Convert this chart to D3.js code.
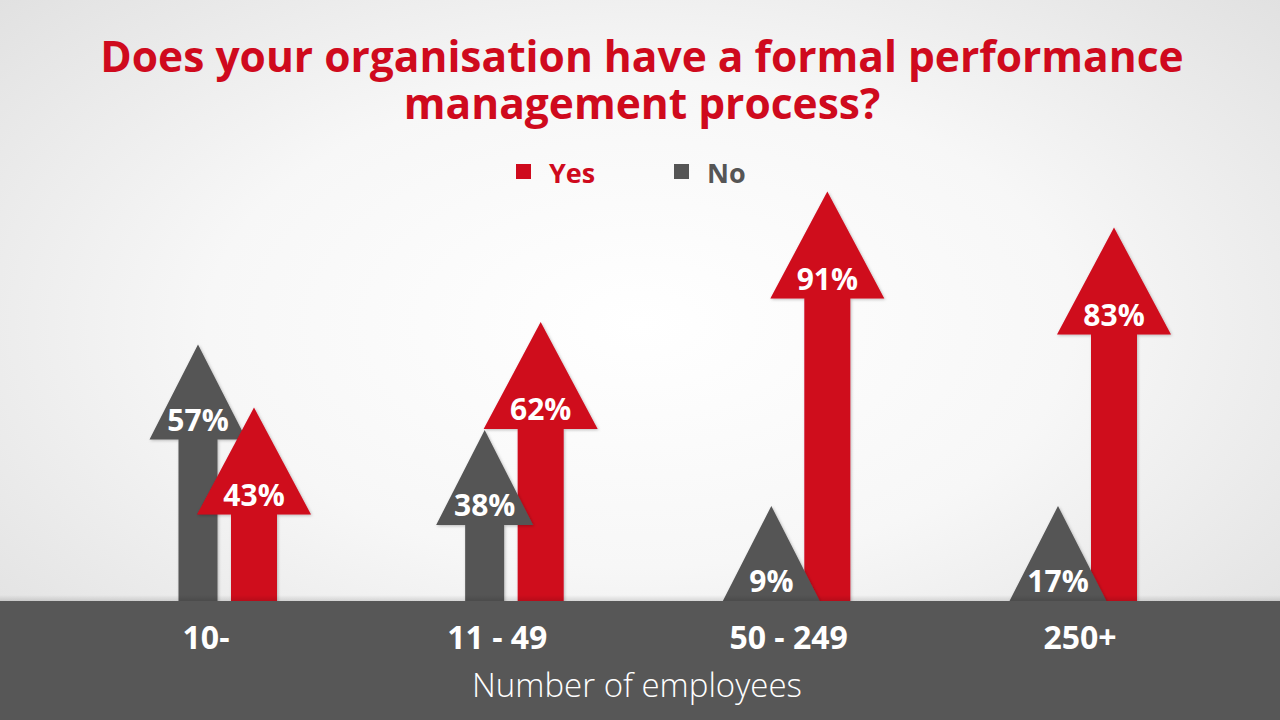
<!DOCTYPE html>
<html>
<head>
<meta charset="utf-8">
<script src="https://cdn.jsdelivr.net/npm/d3@7"></script>
<style>
  html, body { margin: 0; padding: 0; overflow: hidden; }
  svg { display: block; font-family: "Open Sans", Lato, sans-serif; }
</style>
</head>
<body>
<div id="chart"></div>
<script>
const categories = ["10-", "11 - 49", "50 - 249", "250+"];
const seriesNames = ["No", "Yes"];
const yesValues = [43, 62, 91, 83];
const noValues = [57, 38, 9, 17];
const titleLines = ["Does your organisation have a formal performance", "management process?"];
const axisTitle = "Number of employees";

const RED = "#cf0a1d", GREY = "#555555";
const W = 1280, H = 720, baseY = 601;

// arrow shape per series
const shape = {
  No:  { headW: 97,  headH: 95,  shaftW: 39, fill: GREY },
  Yes: { headW: 114, headH: 107, shaftW: 46, fill: RED }
};

const svg = d3.select("#chart").append("svg")
  .attr("width", W).attr("height", H);

const defs = svg.append("defs");
const bg = defs.append("radialGradient").attr("id", "bg")
  .attr("cx", "50%").attr("cy", "45%").attr("r", "75%");
bg.append("stop").attr("offset", "0%").attr("stop-color", "#ffffff");
bg.append("stop").attr("offset", "45%").attr("stop-color", "#f7f7f7");
bg.append("stop").attr("offset", "100%").attr("stop-color", "#dcdcdc");

const sh = defs.append("filter").attr("id", "shadow")
  .attr("x", "-20%").attr("y", "-20%").attr("width", "140%").attr("height", "140%");
sh.append("feDropShadow").attr("dx", 1).attr("dy", 1).attr("stdDeviation", 1.5)
  .attr("flood-color", "#000").attr("flood-opacity", 0.25);

const bandShade = defs.append("linearGradient").attr("id", "bandShade")
  .attr("x1", 0).attr("x2", 0).attr("y1", 0).attr("y2", 1);
bandShade.append("stop").attr("offset", "0%").attr("stop-color", "#000").attr("stop-opacity", 0);
bandShade.append("stop").attr("offset", "100%").attr("stop-color", "#000").attr("stop-opacity", 0.12);

svg.append("rect").attr("width", W).attr("height", H).attr("fill", "url(#bg)");

// title
svg.append("g").selectAll("text")
  .data(titleLines)
  .join("text")
    .attr("x", 642)
    .attr("y", (d, i) => 72 + i * 47)
    .attr("text-anchor", "middle")
    .attr("font-size", 42.5)
    .attr("font-weight", 700)
    .attr("fill", RED)
    .text(d => d);

// legend
const legendX = { Yes: 516, No: 674 };
const legend = svg.append("g").selectAll("g")
  .data(["Yes", "No"])
  .join("g")
    .attr("transform", d => `translate(${legendX[d]},0)`);
legend.append("rect")
  .attr("x", 0).attr("y", 164).attr("width", 15).attr("height", 15)
  .attr("fill", d => shape[d].fill);
legend.append("text")
  .attr("x", 33).attr("y", 183)
  .attr("font-size", 27).attr("font-weight", 700)
  .attr("fill", d => shape[d].fill)
  .text(d => d);

// scales
const x = d3.scalePoint().domain(categories).range([226, 1086]);
const xLabel = x.copy().range([206, 1080]);
const xInner = d3.scaleBand().domain(seriesNames).range([-56, 56]);
const y = d3.scaleLinear().domain([0, 100]).range([baseY, baseY - 450]);

const rows = [];
categories.forEach((c, i) => {
  const pair = [
    { cat: c, series: "No", value: noValues[i] },
    { cat: c, series: "Yes", value: yesValues[i] }
  ];
  // bigger arrow behind, smaller in front
  pair.sort((a, b) => b.value - a.value);
  rows.push(...pair);
});

const cxOf = d => x(d.cat) + xInner(d.series) + xInner.bandwidth() / 2;
const tipOf = d => Math.min(y(d.value), baseY - shape[d.series].headH);

function arrowPath(d) {
  const s = shape[d.series];
  const cx = cxOf(d);
  const tip = tipOf(d);
  const hb = tip + s.headH;
  const p = d3.path();
  p.moveTo(cx - s.shaftW / 2, baseY + 2);
  p.lineTo(cx - s.shaftW / 2, hb);
  p.lineTo(cx - s.headW / 2, hb);
  p.lineTo(cx, tip);
  p.lineTo(cx + s.headW / 2, hb);
  p.lineTo(cx + s.shaftW / 2, hb);
  p.lineTo(cx + s.shaftW / 2, baseY + 2);
  p.closePath();
  return p.toString();
}

const arrows = svg.append("g").selectAll("g")
  .data(rows)
  .join("g");

arrows.append("path")
  .attr("d", arrowPath)
  .attr("fill", d => shape[d.series].fill)
  .attr("filter", "url(#shadow)");

arrows.append("text")
  .attr("x", cxOf)
  .attr("y", d => tipOf(d) + shape[d.series].headH - 9)
  .attr("text-anchor", "middle")
  .attr("font-size", 30)
  .attr("font-weight", 700)
  .attr("fill", "#ffffff")
  .text(d => d.value + "%");

// bottom band
svg.append("rect").attr("x", 0).attr("y", baseY - 6).attr("width", W).attr("height", 6)
  .attr("fill", "url(#bandShade)");
svg.append("rect").attr("x", 0).attr("y", baseY).attr("width", W).attr("height", H - baseY)
  .attr("fill", "#575757");

svg.append("g").selectAll("text")
  .data(categories)
  .join("text")
    .attr("x", d => xLabel(d))
    .attr("y", 649)
    .attr("text-anchor", "middle")
    .attr("font-size", 32)
    .attr("font-weight", 700)
    .attr("fill", "#ffffff")
    .text(d => d);

svg.append("text")
  .attr("x", 637).attr("y", 697)
  .attr("text-anchor", "middle")
  .attr("font-size", 33)
  .attr("font-weight", 300)
  .attr("fill", "#ffffff")
  .text(axisTitle);
</script>
</body>
</html>
